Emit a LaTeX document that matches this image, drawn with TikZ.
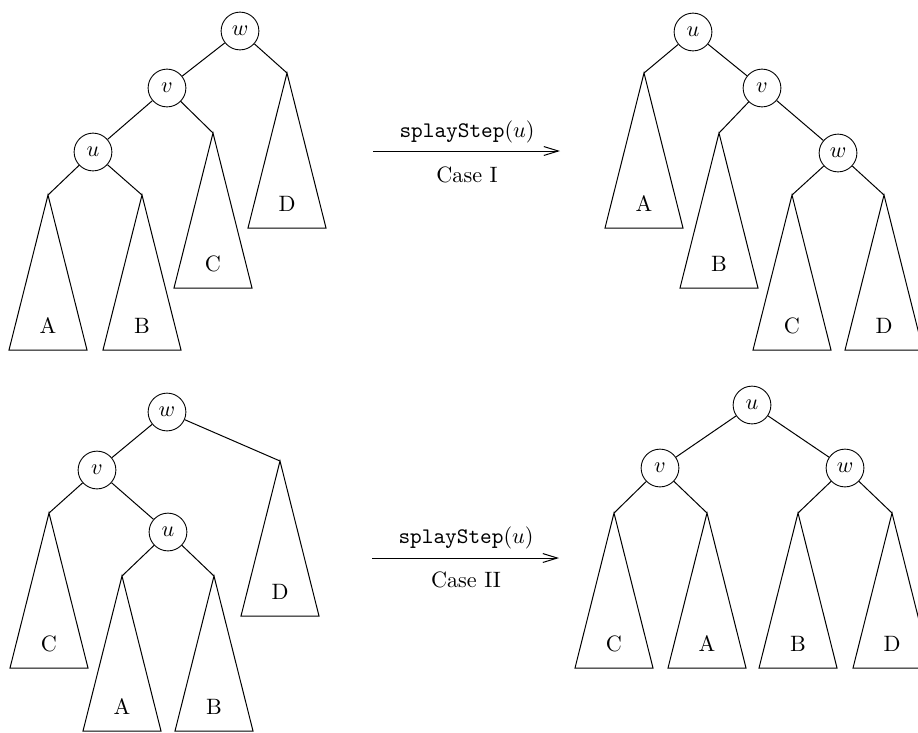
\documentclass[tikz,border=0pt]{standalone}
\usetikzlibrary{arrows.meta}
\tikzset{
  key/.style={draw, circle, minimum size=17pt, inner sep=0pt},
  edge/.style={line width=0.45pt},
  rotarrow/.style={line width=0.45pt, -{Straight Barb[length=6.5pt,width=4pt]}},
}
% \subtri{name}{x}{y}{label}: subtree triangle hanging from apex (name)
\newcommand\subtri[4]{%
  \coordinate (#1) at (#2,#3);
  \draw[edge] (#1) -- ++(-39,155) -- ++(78,0) -- cycle;
  \node[anchor=base] (#1l) at ($(#1)+(0,138)$) {#4};
}
\usetikzlibrary{calc}
\begin{document}
\begin{tikzpicture}[x=0.45pt, y=-0.45pt]
\useasboundingbox (0,0) rectangle (918,732);

% ---- zig-zig: before ----
\node[key] (w1) at (240,31) {$w$};
\node[key] (v1) at (167,88) {$v$};
\node[key] (u1) at (93,152) {$u$};
\subtri{a1}{48}{195}{A}
\subtri{b1}{142}{195}{B}
\subtri{c1}{213}{133}{C}
\subtri{d1}{287}{73}{D}
\draw[edge] (w1) -- (v1) (v1) -- (u1);
\draw[edge] (w1) -- (d1) (v1) -- (c1) (u1) -- (a1) (u1) -- (b1);

% ---- zig-zig: after ----
\node[key] (u2) at (693,32) {$u$};
\node[key] (v2) at (762,88) {$v$};
\node[key] (w2) at (838,153) {$w$};
\subtri{a2}{644}{73}{A}
\subtri{b2}{719}{133}{B}
\subtri{c2}{792}{195}{C}
\subtri{d2}{884}{195}{D}
\draw[edge] (u2) -- (v2) (v2) -- (w2);
\draw[edge] (u2) -- (a2) (v2) -- (b2) (w2) -- (c2) (w2) -- (d2);

% ---- zig-zag: before ----
\node[key] (w3) at (167,412) {$w$};
\node[key] (v3) at (97,470) {$v$};
\node[key] (u3) at (168,532) {$u$};
\subtri{c3}{49}{513}{C}
\subtri{a3}{122}{576}{A}
\subtri{b3}{214}{576}{B}
\subtri{d3}{280}{461}{D}
\draw[edge] (w3) -- (v3) (v3) -- (u3);
\draw[edge] (w3) -- (d3) (v3) -- (c3) (u3) -- (a3) (u3) -- (b3);

% ---- zig-zag: after ----
\node[key] (u4) at (752,405) {$u$};
\node[key] (v4) at (660,468) {$v$};
\node[key] (w4) at (845,468) {$w$};
\subtri{c4}{614}{513}{C}
\subtri{a4}{707}{513}{A}
\subtri{b4}{798}{513}{B}
\subtri{d4}{892}{513}{D}
\draw[edge] (u4) -- (v4) (u4) -- (w4);
\draw[edge] (v4) -- (c4) (v4) -- (a4) (w4) -- (b4) (w4) -- (d4);

% ---- transformation arrows ----
\coordinate (s1) at (373,151);
\coordinate (e1) at (560,151);
\draw[rotarrow] (s1) -- (e1);
\node[anchor=base] (op1) at (467,137) {\texttt{splayStep}$(u)$};
\node[anchor=base] (case1) at (467,182) {Case I};

\coordinate (s2) at (372,558);
\coordinate (e2) at (559,558);
\draw[rotarrow] (s2) -- (e2);
\node[anchor=base] (op2) at (466,543) {\texttt{splayStep}$(u)$};
\node[anchor=base] (case2) at (466,587) {Case II};
\end{tikzpicture}
\end{document}
